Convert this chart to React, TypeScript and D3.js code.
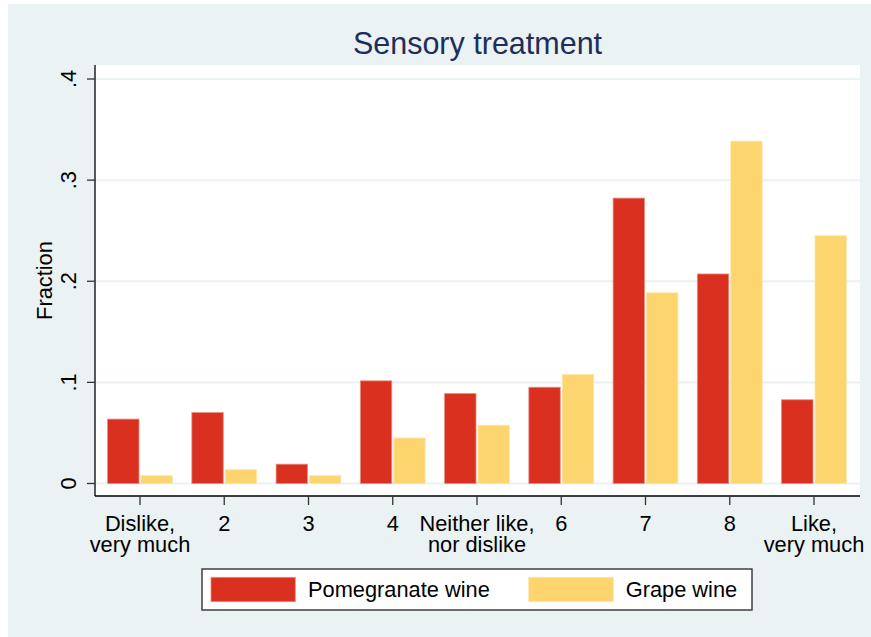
import React from "react";
import * as d3 from "d3";

const categories = ["c1", "c2", "c3", "c4", "c5", "c6", "c7", "c8", "c9"];
const categoryLabels: string[][] = [
  ["Dislike,", "very much"],
  ["2"],
  ["3"],
  ["4"],
  ["Neither like,", "nor dislike"],
  ["6"],
  ["7"],
  ["8"],
  ["Like,", "very much"],
];
const pomegranate = [0.0637, 0.0701, 0.0191, 0.1015, 0.0889, 0.0952, 0.2822, 0.2072, 0.0828];
const grape = [0.0077, 0.0137, 0.0077, 0.045, 0.0576, 0.1077, 0.1886, 0.3385, 0.245];
const yTicks = [0, 0.1, 0.2, 0.3, 0.4];
const yTickLabels = ["0", ".1", ".2", ".3", ".4"];
const seriesNames = ["Pomegranate wine", "Grape wine"];

const W = 871;
const H = 637;
const BG = "#EAF2F3";
const RED = "#D9301F";
const YEL = "#FDD56F";
const FONT = "'Liberation Sans', Arial, Helvetica, sans-serif";

export default function App() {
  const plotL = 95, plotR = 860, plotT = 65, plotB = 496;
  const x = d3.scalePoint<string>().domain(categories).range([140, 814]);
  const y = d3.scaleLinear().domain([0, 0.4]).range([483.5, 79]);
  const bw = 31.4;
  const fs = 21.8;

  return (
    <div style={{ position: "absolute", left: 0, top: 0 }}>
      <svg width={W} height={H} style={{ display: "block" }} fontFamily={FONT}>
        <rect x={0} y={0} width={W} height={H} fill="#ffffff" />
        <rect x={8} y={4} width={W - 8} height={H - 4} fill={BG} />
        <rect x={plotL} y={plotT} width={plotR - plotL} height={plotB - plotT} fill="#ffffff" />
        {yTicks.map((t) => (
          <line key={"g" + t} x1={plotL} x2={plotR} y1={y(t)} y2={y(t)} stroke={BG} strokeWidth={2} />
        ))}
        {categories.map((c, i) => {
          const cx = x(c) as number;
          return (
            <g key={c}>
              <rect
                x={cx - 1 - bw}
                y={y(pomegranate[i])}
                width={bw}
                height={y(0) - y(pomegranate[i])}
                fill={RED}
                stroke="#ec8a80"
                strokeWidth={0.8}
              />
              <rect
                x={cx + 1}
                y={y(grape[i])}
                width={bw}
                height={y(0) - y(grape[i])}
                fill={YEL}
                stroke="#fde6a8"
                strokeWidth={0.8}
              />
            </g>
          );
        })}
        {/* y axis */}
        <line x1={plotL} x2={plotL} y1={plotT} y2={plotB} stroke="#000" strokeWidth={1.3} />
        {yTicks.map((t, i) => (
          <g key={"t" + t}>
            <line x1={plotL - 8} x2={plotL} y1={y(t)} y2={y(t)} stroke="#333" strokeWidth={1.3} />
            <text
              transform={`translate(75.5,${y(t)}) rotate(-90)`}
              textAnchor="middle"
              fontSize={fs}
              fill="#000"
            >
              {yTickLabels[i]}
            </text>
          </g>
        ))}
        <text
          transform={`translate(52,${(plotT + plotB) / 2}) rotate(-90)`}
          textAnchor="middle"
          fontSize={fs}
          fill="#000"
        >
          Fraction
        </text>
        {/* x axis */}
        <line x1={plotL} x2={plotR} y1={plotB} y2={plotB} stroke="#000" strokeWidth={1.3} />
        {categories.map((c, i) => {
          const cx = x(c) as number;
          return (
            <g key={"x" + c}>
              <line x1={cx} x2={cx} y1={plotB} y2={plotB + 9} stroke="#333" strokeWidth={1.3} />
              {categoryLabels[i].map((ln, j) => (
                <text key={j} x={cx} y={530.5 + j * 21.5} textAnchor="middle" fontSize={fs} fill="#000">
                  {ln}
                </text>
              ))}
            </g>
          );
        })}
        {/* title */}
        <text x={(plotL + plotR) / 2} y={54.3} textAnchor="middle" fontSize={30.5} fill="#1e2e5a">
          Sensory treatment
        </text>
        {/* legend */}
        <rect x={202} y={569} width={550} height={41} fill="#ffffff" stroke="#333" strokeWidth={1.4} />
        <rect x={211} y={577.3} width={84.3} height={24.4} fill={RED} stroke="#ec8a80" strokeWidth={0.8} />
        <text x={308} y={597.3} fontSize={fs} fill="#000">{seriesNames[0]}</text>
        <rect x={528.7} y={577.3} width={84.6} height={24.4} fill={YEL} stroke="#fde6a8" strokeWidth={0.8} />
        <text x={625.7} y={597.3} fontSize={fs} fill="#000">{seriesNames[1]}</text>
      </svg>
    </div>
  );
}
